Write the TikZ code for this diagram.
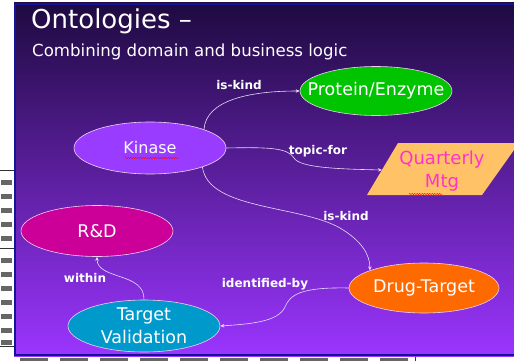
\documentclass[tikz,border=0pt]{standalone}
\usepackage{fontspec}
\setmainfont{DejaVu Sans}
\usetikzlibrary{shapes.geometric,arrows.meta,decorations.pathmorphing}
\definecolor{bgtop}{HTML}{1E0A40}
\definecolor{bgbot}{HTML}{9B35FF}
\definecolor{framecol}{HTML}{12129A}
\definecolor{edgecol}{HTML}{E8DCFF}
\definecolor{rimcol}{HTML}{F2D0F2}
\definecolor{cgreen}{HTML}{00C400}
\definecolor{cviolet}{HTML}{9A3CFF}
\definecolor{cmagenta}{HTML}{CC0099}
\definecolor{corange}{HTML}{FF6A00}
\definecolor{ccyan}{HTML}{0099CC}
\definecolor{cpeach}{HTML}{FFC266}
\definecolor{cpink}{HTML}{FF33CC}
\tikzset{
  oval/.style={ellipse, draw=rimcol, line width=0.6pt, inner xsep=-20pt, inner ysep=-10pt,
    text=white, font=\fontsize{17.5}{23}\selectfont, align=center},
  conn/.style={draw=edgecol, line width=0.6pt, -{Stealth[length=4pt,width=3.5pt]}},
  lab/.style={text=white, font=\bfseries\fontsize{12}{14}\selectfont, inner sep=0pt},
  squig/.style={draw=red, line width=0.4pt, decorate,
    decoration={snake, amplitude=0.6pt, segment length=2.5pt}},
  tabline/.style={draw=black!80, line width=0.8pt}
}
\begin{document}
\begin{tikzpicture}[x=1pt,y=-1pt]
\useasboundingbox (0,0) rectangle (514,361);
\fill[white] (0,0) rectangle (514,361);
% background table remnants
\draw[tabline] (0,170) -- (14,170);
\draw[tabline] (0,248) -- (14,248);
\draw[tabline] (0,346) -- (14,346);
\draw[tabline] (415,356) -- (415,361);
\foreach \yy in {180,194,208,222,236,258,272,286,300,314,328,340}
  \fill[black!60] (1,\yy) rectangle (12,\yy+5);
\foreach \xx in {20,60,100,140,180,220,260,300,340,380}
  \fill[black!60] (\xx,357.5) rectangle (\xx+28,361);
% slide
\shade[top color=bgtop, bottom color=bgbot] (14,3) rectangle (516,356);
\draw[framecol, line width=2pt] (15,4) rectangle (517,355);

% titles
\node[anchor=base west, inner sep=0pt, text=white, font=\fontsize{26}{28}\selectfont] (title) at (31,29) {Ontologies –};
\node[anchor=base west, inner sep=0pt, text=white, font=\fontsize{16.6}{18}\selectfont] (subtitle) at (32,57) {Combining domain and business logic};

% nodes
\node[oval, fill=cgreen, minimum width=152pt, minimum height=49pt] (prot) at (376,91) {Protein/Enzyme};
\node[oval, fill=cviolet, minimum width=152pt, minimum height=52pt, font=\fontsize{16}{22}\selectfont] (kin) at (150,148) {Kinase};
\node[oval, fill=corange, minimum width=150pt, minimum height=50pt] (dt) at (424,288) {Drug-Target};
\node[oval, fill=cmagenta, minimum width=152pt, minimum height=51pt] (rd) at (97,231) {R\&D};
\node[oval, fill=ccyan, minimum width=152pt, minimum height=52pt] (tv) at (144,326) {Target\\Validation};

% parallelogram
\fill[cpeach] (398,143) -- (514,143) -- (514,150) -- (482,195) -- (367,195) -- cycle;
\coordinate (qin) at (382,170);
\node[text=cpink, font=\fontsize{18}{23}\selectfont, align=center, inner sep=0pt] (qm) at (442,171) {Quarterly\\Mtg};

% spelling squiggles
\draw[squig] (125,158) -- (178,158);
\draw[squig] (409,194) -- (442,194);

% connectors
\draw[conn] (kin.19) .. controls (206,100) and (250,91) .. (prot.west);
\draw[conn] (kin.east) .. controls (270,147) and (288,148) .. (294,158)
            .. controls (300,168) and (340,169) .. (qin);
\draw[conn] (kin.-20) .. controls (208,210) and (300,205) .. (340,228)
            .. controls (362,241) and (370,255) .. (dt.162);
\draw[conn] (dt.west) .. controls (300,287) and (290,295) .. (285,307)
            .. controls (278,322) and (250,324) .. (tv.east);
\draw[conn] (tv.north) .. controls (145,272) and (97,280) .. (rd.south);

% labels
\node[lab] (l1) at (239,85) {is-kind};
\node[lab] (l2) at (318,151) {topic-for};
\node[lab] (l3) at (346,216) {is-kind};
\node[lab] (l4) at (265,284) {identified-by};
\node[lab] (l5) at (85,278) {within};
\end{tikzpicture}
\end{document}
